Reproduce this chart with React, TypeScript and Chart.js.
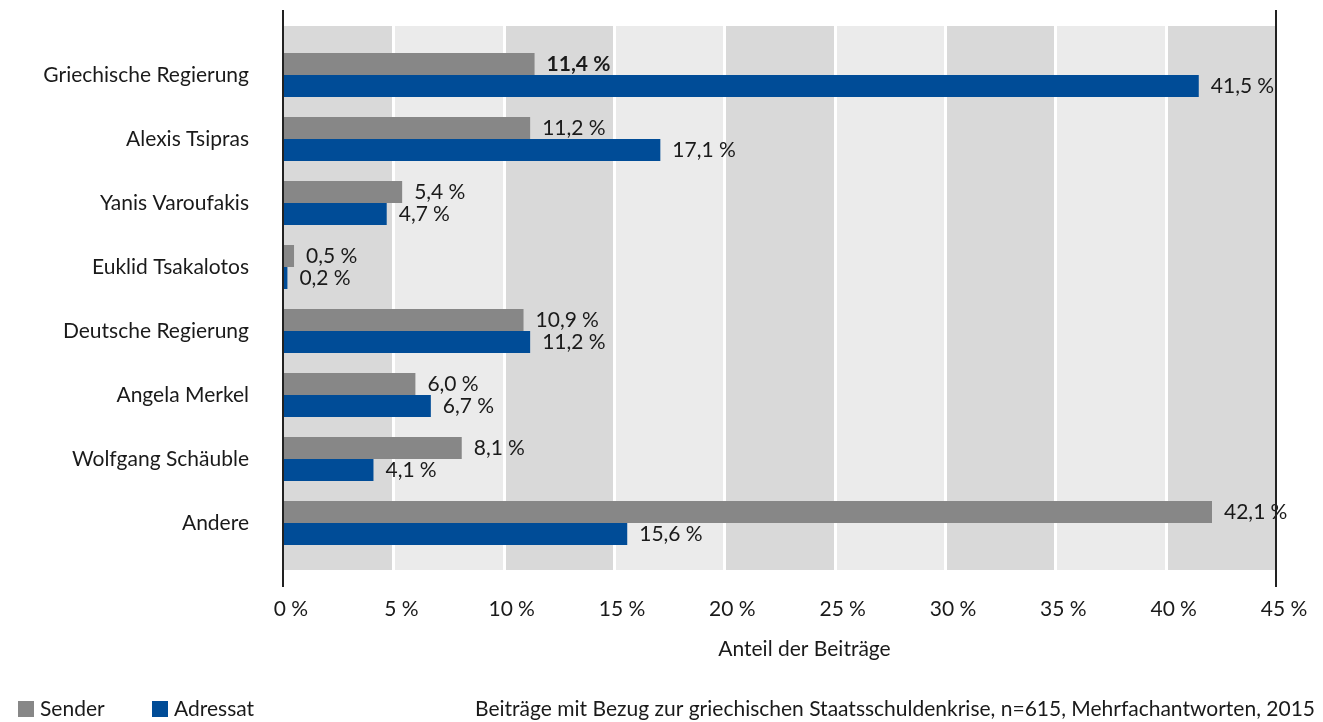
import React, { useEffect, useRef } from 'react';
import { Chart, registerables } from 'chart.js';

Chart.register(...registerables);

const categories = [
  'Griechische Regierung',
  'Alexis Tsipras',
  'Yanis Varoufakis',
  'Euklid Tsakalotos',
  'Deutsche Regierung',
  'Angela Merkel',
  'Wolfgang Schäuble',
  'Andere',
];
const senderValues = [11.4, 11.2, 5.4, 0.5, 10.9, 6.0, 8.1, 42.1];
const adressatValues = [41.5, 17.1, 4.7, 0.2, 11.2, 6.7, 4.1, 15.6];
const seriesNames = ['Sender', 'Adressat'];
const xTicks = [0, 5, 10, 15, 20, 25, 30, 35, 40, 45];
const axisTitle = 'Anteil der Beiträge';
const footnote = 'Beiträge mit Bezug zur griechischen Staatsschuldenkrise, n=615, Mehrfachantworten, 2015';
const boldLabel = { dataset: 0, index: 0 };

const FONT = 'Lato, "Liberation Sans", sans-serif';
const TEXT = '#1a1a1a';
const GRAY = '#878787';
const BLUE = '#004c97';
const BAND_DARK = '#d9d9d9';
const BAND_LIGHT = '#ebebeb';
const FS = 21;

const pct = (v: number) => v.toFixed(1).replace('.', ',') + '\u202F%';

const decor = {
  id: 'decor',
  beforeDatasetsDraw(chart: any) {
    const { ctx, chartArea: ca } = chart;
    const x = chart.scales.x;
    const top = ca.top - 17;
    const bottom = ca.bottom + 15;
    ctx.save();
    for (let i = 0; i < xTicks.length - 1; i++) {
      const x0 = x.getPixelForValue(xTicks[i]);
      const x1 = x.getPixelForValue(xTicks[i + 1]);
      ctx.fillStyle = i % 2 === 0 ? BAND_DARK : BAND_LIGHT;
      ctx.fillRect(x0, top, x1 - x0, bottom - top);
    }
    ctx.fillStyle = '#ffffff';
    for (let i = 1; i < xTicks.length - 1; i++) {
      const px = x.getPixelForValue(xTicks[i]);
      ctx.fillRect(Math.round(px) - 1, top, 3, bottom - top);
    }
    ctx.restore();
  },
  afterDatasetsDraw(chart: any) {
    const { ctx, chartArea: ca } = chart;
    ctx.save();
    ctx.textBaseline = 'middle';
    ctx.textAlign = 'left';
    ctx.fillStyle = TEXT;
    chart.data.datasets.forEach((ds: any, di: number) => {
      const meta = chart.getDatasetMeta(di);
      meta.data.forEach((bar: any, i: number) => {
        const bold = boldLabel.dataset === di && boldLabel.index === i;
        ctx.font = `${bold ? 'bold ' : ''}${FS}px ${FONT}`;
        ctx.fillText(pct(ds.data[i]), bar.x + 12, bar.y);
      });
    });
    // axis lines
    ctx.fillStyle = '#222222';
    const top = ca.top - 33;
    const bottom = ca.bottom + 32;
    ctx.fillRect(ca.left - 1, top, 2, bottom - top);
    ctx.fillRect(ca.right - 1, top, 2, bottom - top);
    ctx.restore();
  },
  afterDraw(chart: any) {
    const { ctx, chartArea: ca } = chart;
    ctx.save();
    ctx.fillStyle = TEXT;
    ctx.textBaseline = 'middle';
    ctx.font = `${FS}px ${FONT}`;
    ctx.textAlign = 'center';
    ctx.fillText(axisTitle, (ca.left + ca.right) / 2 + 25, ca.bottom + 94);
    // legend
    const ly = 709;
    const colors = [GRAY, BLUE];
    const lx = [18, 152];
    ctx.textAlign = 'left';
    seriesNames.forEach((name, i) => {
      ctx.fillStyle = colors[i];
      ctx.fillRect(lx[i], ly - 8, 16, 16);
      ctx.fillStyle = TEXT;
      ctx.fillText(name, lx[i] + 22, ly);
    });
    ctx.textAlign = 'right';
    ctx.fillText(footnote, 1315, ly);
    ctx.restore();
  },
};

export default function App() {
  const ref = useRef<HTMLCanvasElement>(null);
  useEffect(() => {
    if (!ref.current) return;
    const chart = new Chart(ref.current, {
      type: 'bar',
      data: {
        labels: categories,
        datasets: [
          { label: seriesNames[0], data: senderValues, backgroundColor: GRAY, barPercentage: 1, categoryPercentage: 0.6875 },
          { label: seriesNames[1], data: adressatValues, backgroundColor: BLUE, barPercentage: 1, categoryPercentage: 0.6875 },
        ],
      },
      options: {
        indexAxis: 'y',
        responsive: false,
        animation: false,
        devicePixelRatio: 1,
        layout: { padding: { top: 43, right: 47, bottom: 0, left: 0 } },
        plugins: { legend: { display: false }, tooltip: { enabled: false } },
        scales: {
          y: {
            type: 'category',
            afterFit: (s: any) => {
              s.width = 283;
              s.paddingTop = 0;
              s.paddingBottom = 0;
            },
            grid: { display: false, drawTicks: false },
            border: { display: false },
            ticks: { color: TEXT, padding: 34, font: { family: FONT, size: FS } },
          },
          x: {
            type: 'linear',
            min: 0,
            max: 45,
            afterFit: (s: any) => {
              s.height = 167;
              s.paddingLeft = 0;
              s.paddingRight = 0;
            },
            grid: { display: false, drawTicks: false },
            border: { display: false },
            ticks: {
              stepSize: 5,
              autoSkip: false,
              maxRotation: 0,
              labelOffset: 8,
              padding: 42,
              color: TEXT,
              font: { family: FONT, size: FS },
              callback: (v: any) => `${v}\u202F%`,
            },
          },
        },
      },
      plugins: [decor],
    });
    return () => chart.destroy();
  }, []);
  return (
    <div style={{ position: 'fixed', left: 0, top: 0, width: 1323, height: 722, background: '#fff' }}>
      <canvas ref={ref} width={1323} height={722} style={{ display: 'block' }} />
    </div>
  );
}
